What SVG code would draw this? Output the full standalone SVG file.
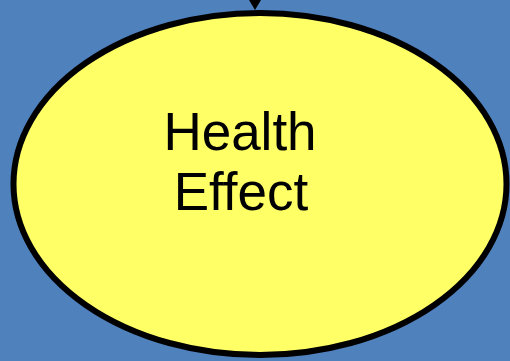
<svg xmlns="http://www.w3.org/2000/svg" width="510" height="361" viewBox="0 0 510 361">
  <style>
    .node-shape { fill: #FFFF66; stroke: #000000; stroke-width: 6; }
    .node-label { font-family: "Liberation Sans", Arial, sans-serif; font-size: 53px; fill: #000000; text-anchor: middle; }
    .arrow-head { fill: #000000; }
  </style>
  <rect x="0" y="0" width="510" height="361" fill="#4F81BD"/>
  <g id="connectors">
    <polygon class="arrow-head" points="249,0 261,0 255,10"/>
  </g>
  <g id="health-effect">
    <ellipse class="node-shape" cx="260" cy="184" rx="246.5" ry="171"/>
    <text class="node-label" x="240" y="150">Health</text>
    <text class="node-label" x="241" y="210">Effect</text>
  </g>
</svg>
